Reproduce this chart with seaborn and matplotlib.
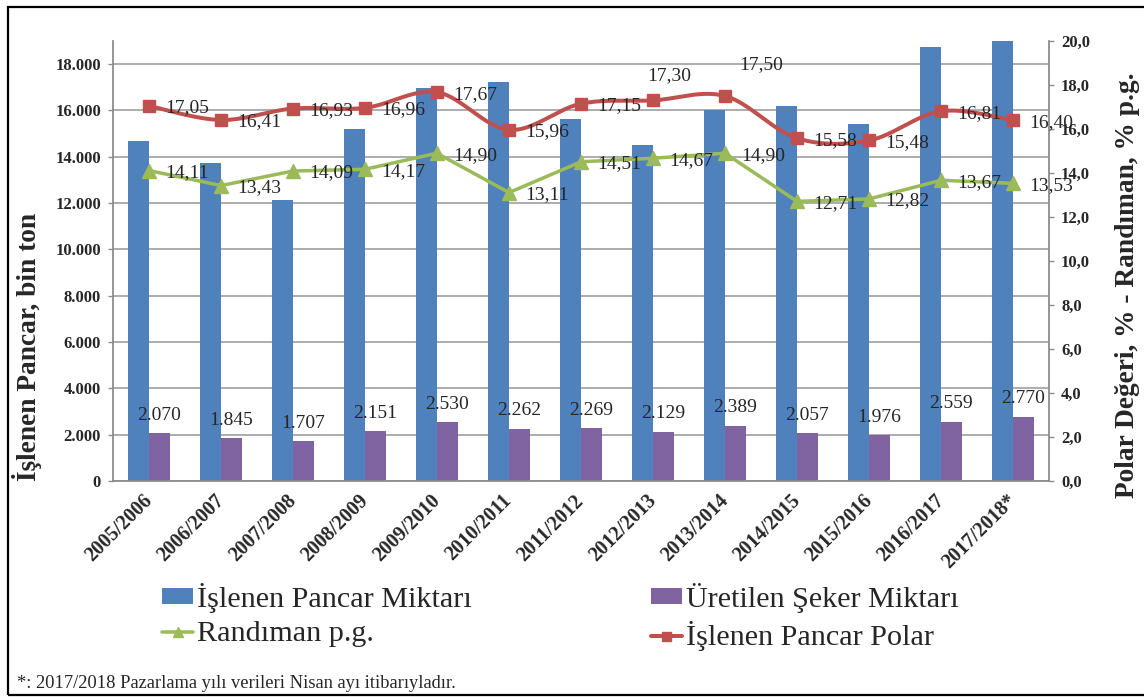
import numpy as np
import pandas as pd
import matplotlib
matplotlib.use("Agg")
import matplotlib.pyplot as plt
import seaborn as sns
from matplotlib.lines import Line2D
from matplotlib.patches import Patch, Rectangle
from matplotlib.font_manager import FontProperties

# ---------------- data ----------------
seasons = ["2005/2006", "2006/2007", "2007/2008", "2008/2009", "2009/2010",
           "2010/2011", "2011/2012", "2012/2013", "2013/2014", "2014/2015",
           "2015/2016", "2016/2017", "2017/2018*"]
pancar = [14670, 13740, 12120, 15180, 16980, 17250, 15640, 14510, 16030,
          16180, 15410, 18720, 20470]          # bin ton
seker = [2070, 1845, 1707, 2151, 2530, 2262, 2269, 2129, 2389, 2057, 1976,
         2559, 2770]                             # bin ton
randiman = [14.11, 13.43, 14.09, 14.17, 14.90, 13.11, 14.51, 14.67, 14.90,
            12.71, 12.82, 13.67, 13.53]
polar = [17.05, 16.41, 16.93, 16.96, 17.67, 15.96, 17.15, 17.30, 17.50,
         15.58, 15.48, 16.81, 16.40]
left_ticks = [0, 2000, 4000, 6000, 8000, 10000, 12000, 14000, 16000, 18000]
right_ticks = [0, 2, 4, 6, 8, 10, 12, 14, 16, 18, 20]

lbl_bar1 = "İşlenen Pancar Miktarı"
lbl_bar2 = "Üretilen Şeker Miktarı"
lbl_line1 = "Randıman p.g."
lbl_line2 = "İşlenen Pancar Polar"

# ---------------- style ----------------
BLUE, PURPLE, GREEN, RED = "#4F81BD", "#8064A2", "#9BBB59", "#C0504D"
GRAY = "#8c8c8c"
GRID = "#a6a6a6"

sns.set_style("white")
SERIF = ["Liberation Serif", "DejaVu Serif"]
plt.rcParams["font.family"] = SERIF

W, H = 1144, 697
fig = plt.figure(figsize=(W / 100, H / 100), dpi=100)
px = 72 / 100  # points per pixel


def fx(x):
    return x / W


def fy(y):
    return 1 - y / H


ax = fig.add_axes([fx(113), fy(481), fx(1049) - fx(113), fy(41) - fy(481)])

df = pd.DataFrame({
    "season": seasons * 2,
    "value": pancar + seker,
    "series": [lbl_bar1] * len(seasons) + [lbl_bar2] * len(seasons),
})
sns.barplot(data=df, x="season", y="value", hue="series",
            palette=[BLUE, PURPLE], width=0.57, saturation=1, gap=0,
            linewidth=0, legend=False, ax=ax, zorder=2)

ax.set_xlim(-0.5, len(seasons) - 0.5)
ax.set_ylim(0, 19000)
ax.set_yticks(left_ticks)
ax.set_yticklabels([f"{v:,}".replace(",", ".") for v in left_ticks],
                   fontsize=12, fontweight="bold")
ax.yaxis.grid(True, color=GRID, lw=1.3)
ax.set_axisbelow(True)
ax.set_xlabel("")
ax.set_ylabel("")

ax.set_xticks(range(len(seasons)))
ax.set_xticklabels(seasons, rotation=45, ha="right", va="center",
                   rotation_mode="anchor", fontsize=14.5, fontweight="bold")
ax.set_xticks(np.arange(-0.5, len(seasons), 1.0), minor=True)
ax.tick_params(axis="x", which="major", length=0, pad=17 * px)
ax.tick_params(axis="x", which="minor", length=5 * px, color=GRAY, width=1)
ax.tick_params(axis="y", length=5 * px, color=GRAY, width=1, pad=7 * px)
for s in ["top", "right"]:
    ax.spines[s].set_visible(False)
for s in ["left", "bottom"]:
    ax.spines[s].set_color(GRAY)
    ax.spines[s].set_linewidth(1.3)

# sugar labels
for i, v in enumerate(seker):
    ax.annotate(f"{v:,}".replace(",", "."), (i + 0.57 / 4, v),
                xytext=(0, 18 * px), textcoords="offset points",
                ha="center", va="center", fontsize=14, zorder=5)

# ---------------- right axis ----------------
ax2 = ax.twinx()
ax2.set_ylim(0, 20)
ax2.set_yticks(right_ticks)
ax2.set_yticklabels([f"{v:.1f}".replace(".", ",") for v in right_ticks],
                    fontsize=12, fontweight="bold")
ax2.tick_params(axis="y", length=5 * px, color=GRAY, width=1, pad=7 * px)
for s in ["top", "left", "bottom"]:
    ax2.spines[s].set_visible(False)
ax2.spines["right"].set_color(GRAY)
ax2.spines["right"].set_linewidth(1.3)

xs = np.arange(len(seasons))


def smooth(xv, yv, n=40):
    P = np.column_stack([xv, yv]).astype(float)
    E = np.vstack([P[0], P, P[-1]])
    out = []
    t = np.linspace(0, 1, n)[:, None]
    for i in range(len(P) - 1):
        p0, p1, p2, p3 = E[i], E[i + 1], E[i + 2], E[i + 3]
        b1 = p1 + (p2 - p0) / 6
        b2 = p2 - (p3 - p1) / 6
        seg = (1 - t) ** 3 * p1 + 3 * (1 - t) ** 2 * t * b1 + 3 * (1 - t) * t ** 2 * b2 + t ** 3 * p2
        out.append(seg if i == 0 else seg[1:])
    return np.vstack(out)


# green line (straight)
ax2.plot(xs, randiman, color=GREEN, lw=3.5 * px, marker="^",
         markersize=14 * px, zorder=4, solid_joinstyle="round")
# red line (smoothed)
sm = smooth(xs, polar)
ax2.plot(sm[:, 0], sm[:, 1], color=RED, lw=4 * px, zorder=4,
         solid_capstyle="round")
ax2.plot(xs, polar, ls="none", color=RED, marker="s", markersize=12 * px,
         zorder=5)

default_off = (16 * px, -2 * px)
red_off = {7: (-6 * px, 25 * px), 8: (14 * px, 31 * px)}
for i, v in enumerate(randiman):
    ax2.annotate(f"{v:.2f}".replace(".", ","), (i, v), xytext=default_off,
                 textcoords="offset points", ha="left", va="center",
                 fontsize=14, zorder=6)
for i, v in enumerate(polar):
    ax2.annotate(f"{v:.2f}".replace(".", ","), (i, v),
                 xytext=red_off.get(i, default_off),
                 textcoords="offset points", ha="left", va="center",
                 fontsize=14, zorder=6)

# ---------------- axis titles ----------------
fig.text(fx(27), fy(347), "İşlenen Pancar, bin ton", rotation=90,
         ha="center", va="center", fontsize=19.7, fontweight="bold")
fig.text(fx(1127), fy(285), "Polar Değeri, % - Randıman, % p.g.",
         rotation=90, ha="center", va="center", fontsize=19.7,
         fontweight="bold")

# ---------------- legend ----------------
handles = [
    Patch(facecolor=BLUE, edgecolor="none"),
    Line2D([0], [0], color=GREEN, lw=3.5 * px, marker="^", markersize=10 * px),
    Patch(facecolor=PURPLE, edgecolor="none"),
    Line2D([0], [0], color=RED, lw=4 * px, marker="s", markersize=9 * px),
]
labels = [lbl_bar1, lbl_line1, lbl_bar2, lbl_line2]
fig.legend(handles, labels, ncol=2, loc="center left",
           bbox_to_anchor=(fx(162), fy(617)), frameon=False,
           prop=FontProperties(family=SERIF, size=21.7),
           handlelength=1.03, handleheight=0.4, handletextpad=0.13,
           columnspacing=5.93, labelspacing=0.28, borderpad=0,
           borderaxespad=0)

# footnote
fig.text(fx(17), fy(683), "*: 2017/2018 Pazarlama yılı verileri Nisan ayı itibarıyladır.",
         ha="left", va="center", fontsize=13.3)

# outer frame
fig.add_artist(Rectangle((fx(8), fy(695)), fx(1160) - fx(8), fy(7) - fy(695),
                         transform=fig.transFigure, fill=False,
                         edgecolor="black", lw=1.6, clip_on=False))

fig.savefig("out.png", dpi=100)
